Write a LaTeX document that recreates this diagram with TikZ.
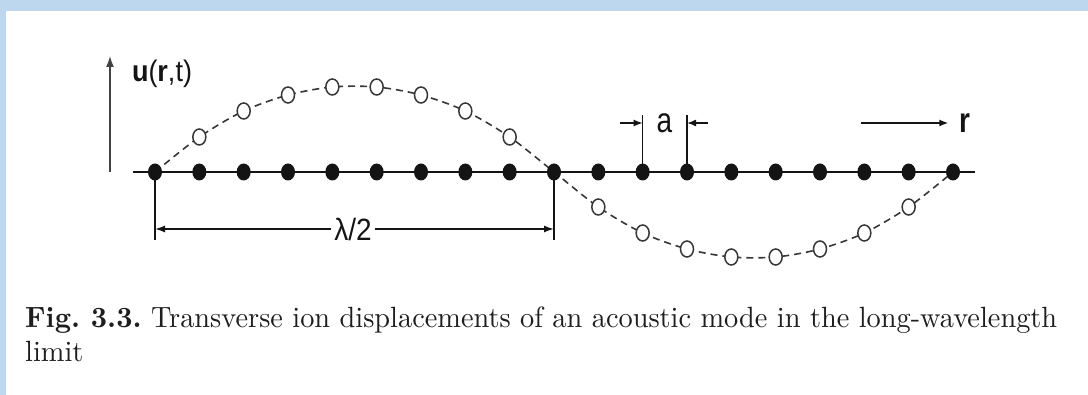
\documentclass[tikz,border=0pt]{standalone}
\usepackage{graphicx}
\usepackage{fontspec}
\newfontfamily\lab{Liberation Sans}
\usetikzlibrary{arrows.meta,shapes.geometric}
\pgfdeclarelayer{paper}
\pgfdeclarelayer{lines}
\pgfsetlayers{paper,lines,main}
\newlength\capw
\definecolor{bgblue}{RGB}{189,215,238}
\definecolor{ink}{RGB}{20,20,20}
\definecolor{capink}{RGB}{30,30,30}
\newcommand\captxt{\textbf{Fig. 3.3.} Transverse ion displacements of an acoustic mode in the long-wavelength}
\tikzset{
  atom/.style={ellipse,fill=ink,minimum width=14pt,minimum height=17pt,inner sep=0pt},
  ring/.style={ellipse,draw=ink!85,line width=1.5pt,fill=white,minimum width=13pt,minimum height=16pt,inner sep=0pt},
  wave/.style={draw=ink!85,line width=1.6pt,dash pattern=on 7pt off 5pt},
  axisline/.style={draw=ink,line width=2.2pt},
  dimline/.style={draw=ink,line width=1.5pt},
  bigtip/.style={-{Latex[length=11pt,width=8pt]}},
  smalltip/.style={-{Latex[length=9pt,width=7pt]}},
  bothtips/.style={{Latex[length=10pt,width=7pt]}-{Latex[length=10pt,width=7pt]}},
  lbl/.style={inner sep=0pt,text=ink},
}
\begin{document}
\frenchspacing
\settowidth\capw{\fontsize{10pt}{12pt}\selectfont\captxt}%
\pgfmathsetmacro\capsx{1032/\capw}%
\begin{tikzpicture}[x=1pt,y=-1pt]
\useasboundingbox (0,0) rectangle (1088,395);
\begin{pgfonlayer}{paper}
  \fill[bgblue] (0,0) rectangle (1088,395);
  \fill[white] (6,11) rectangle (1088,395);
\end{pgfonlayer}

% ions
\foreach \i in {0,...,18} \node[atom] (d\i) at ({155+\i*44.333},172) {};
\foreach \i/\h in {1/35,2/61,3/77,4/85,5/85,6/77,7/61,8/35} {
  \node[ring] (c\i) at ({155+\i*44.333},{172-\h}) {};
  \pgfmathtruncatemacro\j{\i+9}
  \node[ring] (c\j) at ({155+\j*44.333},{172+\h}) {};
}

% labels
\node[lbl,font={\lab\fontsize{27pt}{30pt}\selectfont}] (ulab) at (162,74) {\scalebox{1}[1.1]{\textbf{u}(\textbf{r},t)}};
\node[lbl,font={\lab\fontsize{28pt}{32pt}\selectfont}] (alab) at (664.5,123) {\scalebox{1}[1.25]{a}};
\node[lbl,font={\lab\fontsize{28pt}{32pt}\selectfont}] (rlab) at (965,123) {\scalebox{1}[1.25]{\textbf{r}}};
\node[lbl,fill=white,inner xsep=3pt,font={\lab\fontsize{28pt}{32pt}\selectfont}] (lam) at (353,229) {\scalebox{1}[1.1]{λ/2}};

\coordinate (axl) at (133,172);
\coordinate (axr) at (975,172);
\coordinate (ub) at (110,172);
\coordinate (ut) at (110,56);
\coordinate (aL) at (620,123);
\coordinate (aR) at (708,123);
\coordinate (rs) at (861,123);
\coordinate (lamy) at (0,229);

\begin{pgfonlayer}{lines}
  \draw[wave] plot[smooth] coordinates {(d0.center) (c1.center) (c2.center) (c3.center) (c4.center) (c5.center) (c6.center) (c7.center) (c8.center) (d9.center) (c10.center) (c11.center) (c12.center) (c13.center) (c14.center) (c15.center) (c16.center) (c17.center) (d18.center)};
  \draw[axisline] (axl) -- (axr);
  \draw[dimline,draw=ink!80,bigtip] (ub) -- (ut);
  % lattice constant a
  \draw[dimline] (d11.center) -- ++(0,-57);
  \draw[dimline] (d12.center) -- ++(0,-57);
  \draw[dimline,smalltip] (aL) -- (d11.center |- aL);
  \draw[dimline,smalltip] (aR) -- (d12.center |- aR);
  % r direction
  \draw[dimline,smalltip,shorten >=11pt] (rs) -- (rlab.west);
  % half wavelength
  \draw[dimline] (d0.center) -- ++(0,68);
  \draw[dimline] (d9.center) -- ++(0,68);
  \draw[dimline,bothtips] (d0.center |- lamy) -- (d9.center |- lamy);
\end{pgfonlayer}

% caption
\node[anchor=base west,inner sep=0pt,text=capink] (cap1) at (25,328) {\scalebox{\capsx}[2.93]{\fontsize{10pt}{12pt}\selectfont\captxt}};
\node[anchor=base west,inner sep=0pt,text=capink] (cap2) at (25,362) {\scalebox{\capsx}[2.93]{\fontsize{10pt}{12pt}\selectfont limit}};
\end{tikzpicture}
\end{document}
